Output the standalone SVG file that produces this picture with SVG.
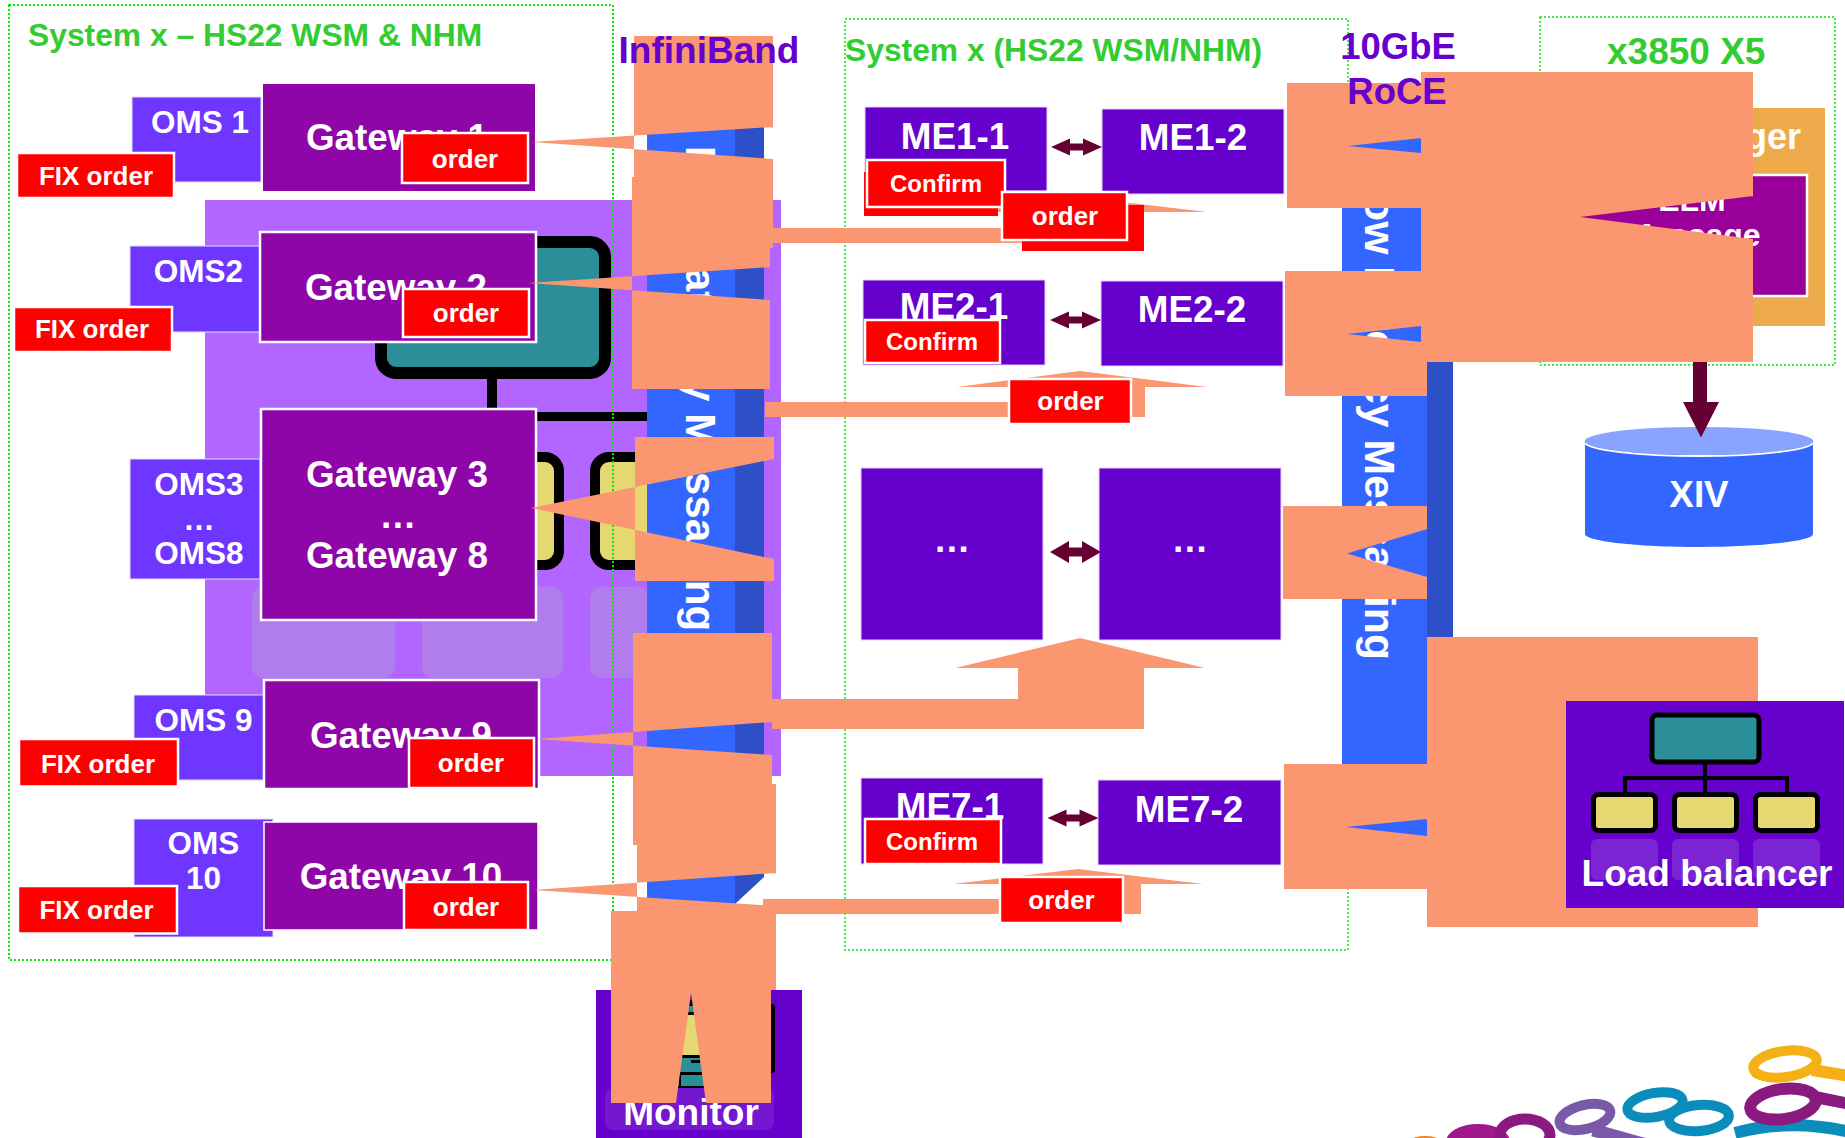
<svg xmlns="http://www.w3.org/2000/svg" width="1845" height="1138" viewBox="0 0 1845 1138">
<style>
text{font-family:"Liberation Sans",Arial,sans-serif;font-weight:bold}
.w{fill:#fff;text-anchor:middle}
.t37{font-size:36.800px}.t31{font-size:31.500px}.t26{font-size:26px}.t24{font-size:24px}
.green{fill:#33cc33;font-size:31.800px}
.violet{fill:#6600cc;font-size:36.500px;text-anchor:middle}
.dash{fill:none;stroke:#00ee00;stroke-width:2;stroke-dasharray:2 2}
.gw{fill:#8f06a8;stroke:#fff;stroke-width:2.500}
.gwn{fill:#8f06a8}
.oms{fill:#6e36ff;stroke:#e6dcff;stroke-width:1}
.me{fill:#6600cc;stroke:#e4d4f7;stroke-width:1}
.red{fill:#f00;stroke:#fff;stroke-width:2.500}
.redn{fill:#f00}
.peach{fill:#fa9670;fill-rule:evenodd}
.dk{fill:#660033}
.ref{fill:#b0b0c0;opacity:.3}
.ring{fill:none;stroke-width:10}
</style>
<defs>
<path id="dbl" class="dk" d="M-25.500 0L-6.500-8.500V-3.500H6.500V-8.500L25.500 0L6.500 8.500V3.500H-6.500V8.500Z"/>
</defs>

<g id="server-background">
<rect x="205" y="200" width="576" height="576" fill="#b266ff"/>
<rect x="381" y="242" width="224" height="131" rx="15" fill="#2a8f99" stroke="#000" stroke-width="12"/>
<rect x="487" y="379" width="10" height="35" fill="#000"/>
<rect x="487" y="412" width="162" height="9" fill="#000"/>
<rect x="499" y="457" width="60" height="108" rx="14" fill="#e6d870" stroke="#000" stroke-width="10"/>
<rect x="595" y="457" width="60" height="108" rx="14" fill="#e6d870" stroke="#000" stroke-width="10"/>
<rect class="ref" x="252" y="587" width="143" height="91" rx="12"/>
<rect class="ref" x="422" y="587" width="141" height="91" rx="12"/>
<rect class="ref" x="590" y="587" width="60" height="91" rx="12"/>
</g>

<g id="region-frames">
<rect class="dash" x="9" y="5" width="604" height="955"/>
<rect class="dash" x="845" y="19" width="503" height="931" style="stroke-width:1.500"/>
<rect class="dash" x="1540" y="17" width="295" height="348" style="stroke-width:1.500"/>
</g>

<g id="infiniband-bar">
<rect x="647" y="110" width="88" height="794" fill="#3366ff"/>
<polygon points="735,110 764,110 764,877 735,904" fill="#2d50c8"/>
<text transform="translate(686,146) rotate(90)" font-size="42.200" fill="#fff">Low Latency Messaging</text>
</g>

<g id="roce-bar">
<rect x="1342" y="130" width="85" height="750" fill="#3366ff"/>
<rect x="1427" y="130" width="26" height="750" fill="#2d50c8"/>
<text transform="translate(1365,169) rotate(90)" font-size="42.700" fill="#fff">Low Latency Messaging</text>
</g>

<g id="logger">
<rect x="1545" y="108" width="280" height="218" fill="#edaa4b"/>
<text x="1801" y="149" text-anchor="end" font-size="36" fill="#fff">Logger</text>
<rect x="1570" y="175" width="237" height="121" fill="#990099" stroke="#fff" stroke-width="2.500"/>
<text class="w" x="1692" y="211" font-size="32">ELM</text>
<text class="w" x="1693" y="246" font-size="32">Message</text>
</g>

<g id="xiv">
<path d="M1585 441V534C1585 541 1636 547 1699 547S1813 541 1813 534V441Z" fill="#3366ff"/>
<ellipse cx="1699" cy="441" rx="114" ry="14" fill="#88a4ff"/>
<path d="M1585 443C1590 450 1636 456 1699 456S1808 450 1813 443" fill="none" stroke="#fff" stroke-width="2"/>
<text class="w t37" x="1699" y="507">XIV</text>
</g>

<g id="monitor">
<rect x="596" y="990" width="206" height="148" fill="#6600cc"/>
<rect x="766" y="1004" width="9" height="69" rx="3" fill="#000"/>
<rect x="670" y="1000" width="42" height="6" fill="#000"/>
<rect x="670" y="1006" width="42" height="6" fill="#2a8f99"/>
<rect x="670" y="1012" width="42" height="3" fill="#000"/>
<rect x="670" y="1015" width="42" height="40" fill="#e6d870"/>
<rect x="670" y="1055" width="42" height="3" fill="#000"/>
<rect x="670" y="1058" width="42" height="14" fill="#2a8f99"/>
<rect x="691" y="1060" width="9" height="3" fill="#000"/>
<rect x="670" y="1072" width="42" height="3" fill="#000"/>
<rect x="670" y="1075" width="42" height="11" fill="#2a8f99"/>
<rect x="679" y="1075" width="2" height="11" fill="#000"/>
<rect x="670" y="1086" width="42" height="2" fill="#000"/>
<rect x="605" y="1088" width="169" height="42" rx="8" fill="#fff" opacity=".09"/>
<text class="w" x="691" y="1125" font-size="37">Monitor</text>
</g>

<g id="oms-1"><rect class="oms" x="132" y="97" width="129" height="85"/><text class="w t31" x="200" y="133">OMS 1</text></g>
<g id="oms-2"><rect class="oms" x="130" y="246" width="130" height="86"/><text class="w t31" x="198.500" y="282">OMS2</text></g>
<g id="oms-3-8"><rect class="oms" x="130" y="459" width="130" height="120"/><text class="w t31" x="199" y="495">OMS3</text><text class="w t31" x="199" y="530">…</text><text class="w t31" x="199" y="564">OMS8</text></g>
<g id="oms-9"><rect class="oms" x="134" y="695" width="130" height="85"/><text class="w t31" x="203.500" y="731">OMS 9</text></g>
<g id="oms-10"><rect class="oms" x="134" y="819" width="139" height="118"/><text class="w t31" x="203.500" y="854">OMS</text><text class="w t31" x="203.500" y="889">10</text></g>

<g id="gateway-1"><rect class="gwn" x="263" y="84" width="272" height="107"/><text class="w t37" x="397" y="149.500">Gateway 1</text></g>
<g id="gateway-2"><rect class="gw" x="260" y="232" width="276" height="110"/><text class="w t37" x="396" y="300">Gateway 2</text></g>
<g id="gateway-3-8"><rect class="gw" x="261" y="409" width="275" height="211"/><text class="w t37" x="397" y="487">Gateway 3</text><text class="w t37" x="398" y="528">…</text><text class="w t37" x="397" y="568">Gateway 8</text></g>
<g id="gateway-9"><rect class="gw" x="264" y="680" width="275" height="109"/><text class="w t37" x="401" y="748">Gateway 9</text></g>
<g id="gateway-10"><rect class="gw" x="264" y="822" width="274" height="108" style="stroke-width:1.500"/><text class="w t37" x="401" y="889">Gateway 10</text></g>

<g id="me1-1"><rect class="me" x="865" y="107" width="182" height="84"/><text class="w t37" x="955" y="149">ME1-1</text></g>
<g id="me1-2"><rect class="me" x="1102" y="109" width="182" height="85"/><text class="w t37" x="1193" y="150">ME1-2</text></g>
<g id="me2-1"><rect class="me" x="863" y="280" width="182" height="85"/><text class="w t37" x="954" y="319">ME2-1</text></g>
<g id="me2-2"><rect class="me" x="1101" y="281" width="182" height="85"/><text class="w t37" x="1192" y="322">ME2-2</text></g>
<g id="me-dots-1"><rect class="me" x="861" y="468" width="182" height="172"/><text class="w t37" x="952" y="552">…</text></g>
<g id="me-dots-2"><rect class="me" x="1099" y="468" width="182" height="172"/><text class="w t37" x="1190" y="552">…</text></g>
<g id="me7-1"><rect class="me" x="861" y="778" width="182" height="86"/><text class="w t37" x="950" y="819">ME7-1</text></g>
<g id="me7-2"><rect class="me" x="1098" y="780" width="183" height="85"/><text class="w t37" x="1189" y="822">ME7-2</text></g>

<g id="connectors">
<use href="#dbl" x="1076.500" y="147"/>
<use href="#dbl" x="1075.500" y="320"/>
<use href="#dbl" transform="translate(1075.500,552) scale(1,1.300)"/>
<use href="#dbl" x="1073" y="818"/>
<polygon class="dk" points="1693,362 1707,362 1707,402 1719,402 1701,437.500 1683,402 1693,402"/>

<path class="peach" d="M634 36H773V248H634Z M531 142L773 127V159Z"/>
<path class="peach" d="M632 177H770V389H632Z M528 283L770 267V300Z"/>
<path class="peach" d="M635 437H774V581H635Z M531 508L774 459V559Z"/>
<path class="peach" d="M633 633H772V845H633Z M536 739L772 722V755Z"/>
<path class="peach" d="M637 784H776V990H637Z M533 890L776 873V906Z"/>
<path class="peach" d="M611 911H771V1103H611Z M691 993L676 1103H706Z"/>

<path class="peach" d="M765 228H1018V212H955L1080 197L1207 212H1144V243H765Z"/>
<path class="peach" d="M765 402H1018V387H957L1080 371L1207 387H1145V417H765Z"/>
<path class="peach" d="M772 699H1018V668H955L1080 638L1205 668H1144V729H772Z"/>
<path class="peach" d="M763 899H1016V884H953L1078 869L1203 884H1141V914H763Z"/>

<path class="peach" d="M1287 83H1421V208H1287Z M1348 146L1421 138V153Z"/>
<path class="peach" d="M1285 271H1427V396H1285Z M1347 334L1421 326V342Z"/>
<path class="peach" d="M1421 72H1753V362H1421Z M1580 217L1753 196V239Z"/>
<path class="peach" d="M1283 506H1427V599H1283Z M1347 553.500L1427 529V577Z"/>
<path class="peach" d="M1284 764H1427V889H1284Z M1346 827L1427 819V836Z"/>
<path class="peach" d="M1427 637H1758V927H1427Z"/>
</g>

<g id="fix-order-1"><rect class="red" x="17" y="153" width="157" height="45"/><text class="w t26" x="96" y="185">FIX order</text></g>
<g id="fix-order-2"><rect class="red" x="14" y="307" width="158" height="45"/><text class="w t26" x="92" y="338">FIX order</text></g>
<g id="fix-order-9"><rect class="red" x="19" y="739" width="159" height="47.500"/><text class="w t26" x="98" y="773">FIX order</text></g>
<g id="fix-order-10"><rect class="red" x="18" y="886" width="159" height="47.500"/><text class="w t26" x="96.500" y="919">FIX order</text></g>

<g id="order-g1"><rect class="red" x="402" y="133" width="126" height="50"/><text class="w t26" x="465" y="168">order</text></g>
<g id="order-g2"><rect class="red" x="403" y="289" width="126" height="48"/><text class="w t26" x="466" y="322">order</text></g>
<g id="order-g9"><rect class="red" x="409" y="738" width="125" height="50"/><text class="w t26" x="471" y="772">order</text></g>
<g id="order-g10"><rect class="red" x="404" y="882" width="124" height="48"/><text class="w t26" x="466" y="916">order</text></g>

<g id="confirm-1"><rect class="redn" x="864" y="172" width="134" height="44"/><rect class="red" x="867" y="160" width="138" height="47"/><text class="w t24" x="936" y="192">Confirm</text></g>
<g id="order-1"><rect class="redn" x="1022" y="205" width="122" height="46"/><rect class="red" x="1002" y="192" width="125" height="48"/><text class="w t26" x="1065" y="225">order</text></g>
<g id="confirm-2"><rect class="red" x="865" y="320" width="135" height="43"/><text class="w t24" x="932" y="350">Confirm</text></g>
<g id="order-2"><rect class="red" x="1009" y="379" width="122" height="45"/><text class="w t26" x="1070.500" y="410">order</text></g>
<g id="confirm-7"><rect class="red" x="865" y="819" width="136" height="45"/><text class="w t24" x="932" y="850">Confirm</text></g>
<g id="order-7"><rect class="red" x="1000" y="877" width="123" height="46"/><text class="w t26" x="1061.500" y="909">order</text></g>

<g id="load-balancer">
<rect x="1566" y="701" width="278" height="207" fill="#6600cc"/>
<rect x="1652" y="715" width="107" height="47" rx="5" fill="#2a8f99" stroke="#000" stroke-width="5"/>
<path d="M1705 764V792M1625 792V778H1787V792" fill="none" stroke="#000" stroke-width="4"/>
<g fill="#e6d870" stroke="#000" stroke-width="5">
<rect x="1593.500" y="794.500" width="62" height="36" rx="5"/>
<rect x="1674.500" y="794.500" width="62" height="36" rx="5"/>
<rect x="1755.500" y="794.500" width="62" height="36" rx="5"/>
</g>
<g fill="#fff" opacity=".14"><rect x="1591" y="839" width="67" height="41" rx="6"/><rect x="1672" y="839" width="67" height="41" rx="6"/><rect x="1753" y="839" width="67" height="41" rx="6"/></g>
<text class="w" x="1707" y="886" font-size="37">Load balancer</text>
</g>

<g id="labels">
<text class="green" x="28" y="46">System x – HS22 WSM &amp; NHM</text>
<text class="green" x="845" y="61">System x (HS22 WSM/NHM)</text>
<text class="green" x="1607" y="64" style="font-size:37px">x3850 X5</text>
<text class="violet" x="709" y="63" style="font-size:37px">InfiniBand</text>
<text class="violet" x="1398" y="59">10GbE</text>
<text class="violet" x="1397" y="104">RoCE</text>
</g>

<g id="logo">
<ellipse cx="1478" cy="1142" rx="32" ry="18" fill="#a0188c"/>
<ellipse cx="1425" cy="1140" rx="14" ry="4" fill="#e8842a"/>
<g class="ring">
<ellipse cx="1785" cy="1064" rx="32" ry="13" transform="rotate(-8 1785 1064)" stroke="#f5b015"/>
<path d="M1812 1070L1850 1076" stroke="#f5b015" stroke-width="12"/>
<path d="M1735 1133Q1790 1118 1850 1132" stroke="#0a8dbd" stroke-width="12"/>
<ellipse cx="1783" cy="1104" rx="33" ry="15" transform="rotate(-8 1783 1104)" stroke="#8a1a80" stroke-width="12"/>
<path d="M1815 1097L1850 1104" stroke="#8a1a80" stroke-width="12"/>
<ellipse cx="1655" cy="1105" rx="28" ry="12" transform="rotate(-10 1655 1105)" stroke="#0a8dbd"/>
<ellipse cx="1699" cy="1118" rx="30" ry="13" transform="rotate(-5 1699 1118)" stroke="#0a8dbd"/>
<path d="M1593 1130L1657 1148" stroke="#7a5aa8" stroke-width="13"/>
<ellipse cx="1585" cy="1117" rx="26" ry="12" transform="rotate(-14 1585 1117)" stroke="#7a5aa8"/>
<ellipse cx="1525" cy="1135" rx="25" ry="16" stroke="#8a1a80" stroke-width="11"/>
</g>
</g>
</svg>
